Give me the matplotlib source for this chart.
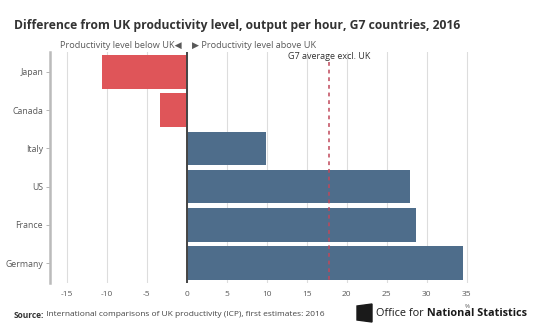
import matplotlib.pyplot as plt
from matplotlib.patches import Polygon

# Data
countries = ['Japan', 'Canada', 'Italy', 'US', 'France', 'Germany']
diff = [-10.6, -3.3, 9.9, 27.9, 28.7, 34.5]
g7_avg = 17.8
xticks = [-15, -10, -5, 0, 5, 10, 15, 20, 25, 30, 35]

red = '#df5559'
blue = '#4e6d8b'
grey = '#595959'

plt.rcParams['font.family'] = ['Open Sans', 'DejaVu Sans']

fig = plt.figure(figsize=(5.4, 3.25), dpi=100)
ax = fig.add_axes([50 / 540, 42 / 325, 420 / 540, 231 / 325])

colors = [red if v < 0 else blue for v in diff]
ax.barh(range(len(countries)), diff, height=0.88, color=colors, zorder=2)

ax.set_xlim(-17.1, 35.4)
ax.set_ylim(5.52, -0.52)
ax.set_xticks(xticks)
ax.set_xticklabels([str(t) for t in xticks])
ax.set_yticks(range(len(countries)))
ax.set_yticklabels(countries)
ax.tick_params(axis='x', length=0, labelsize=6, colors=grey, pad=6)
ax.tick_params(axis='y', length=3, width=0.6, color='#aaaaaa', labelsize=6.3, labelcolor=grey, pad=2)
ax.grid(axis='x', color='#dddddd', linewidth=0.8, zorder=0)
for s in ['top', 'right', 'bottom']:
    ax.spines[s].set_visible(False)
ax.spines['left'].set_color('#bbbbbb')
ax.spines['left'].set_linewidth(1.8)

# zero line and G7 average
ax.axvline(0, color='#444444', linewidth=1.4, zorder=3)
ax.plot([g7_avg, g7_avg], [-0.25, 5.52], color='#c0485a', linewidth=1.1,
        linestyle=(0, (2.5, 2.5)), zorder=4, clip_on=False)
ax.text(g7_avg, -0.4, 'G7 average excl. UK', ha='center', va='center',
        fontsize=6.5, color='#333333')

ax.text(-0.6, -0.68, 'Productivity level below UK\u25c0', ha='right', va='center',
        fontsize=6.6, color=grey)
ax.text(0.6, -0.68, '\u25b6 Productivity level above UK', ha='left', va='center',
        fontsize=6.6, color=grey)

# % unit under the axis
ax.text(35, -0.09, '%', transform=ax.get_xaxis_transform(), ha='center', va='top',
        fontsize=4.5, color=grey)

fig.text(14 / 540, 1 - 25 / 325, 'Difference from UK productivity level, output per hour, G7 countries, 2016',
         fontsize=8.7, fontweight='bold', color='#333333', va='center')

src = fig.text(14 / 540, 1 - 315 / 325, 'Source:', fontsize=6, fontweight='bold', color='#333333', va='center')
ax.annotate(' International comparisons of UK productivity (ICP), first estimates: 2016',
            xy=(1, 0.5), xycoords=src, va='center', fontsize=6, color='#444444',
            annotation_clip=False)

# ONS logo
logo = Polygon([[357 / 540, 1 - 306 / 325], [372 / 540, 1 - 304 / 325],
                [372 / 540, 1 - 322 / 325], [357 / 540, 1 - 320 / 325]],
               closed=True, transform=fig.transFigure, color='#1a1a1a')
fig.patches.append(logo)
ons = fig.text(376 / 540, 1 - 313 / 325, 'Office for', fontsize=7.8, color='#1a1a1a', va='center')
ax.annotate(' National Statistics', xy=(1, 0.5), xycoords=ons, va='center', fontsize=7.8,
            fontweight='bold', color='#1a1a1a', annotation_clip=False)

fig.savefig('out.png', dpi=100)
